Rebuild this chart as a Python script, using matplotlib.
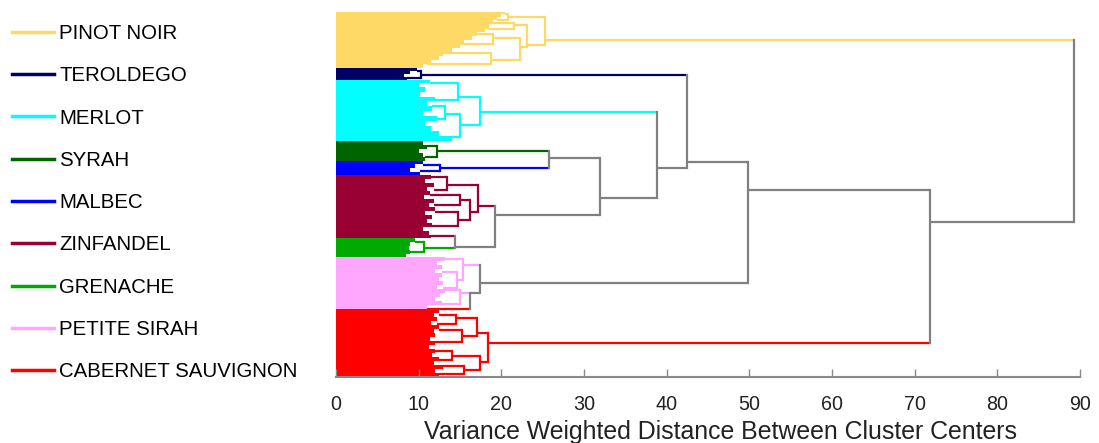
import matplotlib
matplotlib.use('Agg')
import matplotlib.pyplot as plt
from matplotlib.lines import Line2D

plt.rcParams['font.family'] = ['Liberation Sans', 'DejaVu Sans']

# wine classes, in the order of the leaves (top to bottom)
classes = ['PINOT NOIR', 'TEROLDEGO', 'MERLOT', 'SYRAH', 'MALBEC',
           'ZINFANDEL', 'GRENACHE', 'PETITE SIRAH', 'CABERNET SAUVIGNON']
class_colors = ['#FFD966', '#000066', '#00FFFF', '#006400', '#0000FF',
                '#990033', '#00AA00', '#FFA6FF', '#FF0000']
mixed_color = '#808080'

# dense leaf bundles: leaf position breakpoints and the distance the bundle reaches
band_y = [
    [12, 14, 17, 20, 23, 26, 29, 32, 36, 40, 44, 48, 52, 56, 60, 64, 68],
    [68, 71, 74, 77, 80],
    [80, 83, 87, 92, 97, 101, 106, 111, 116, 121, 126, 131, 136, 141],
    [141, 145, 149, 153, 157, 161],
    [161, 164, 168, 172, 175],
    [175, 179, 183, 187, 191, 195, 199, 203, 207, 211, 215, 219, 223, 227, 231, 235, 238],
    [238, 242, 246, 250, 254, 257],
    [257, 261, 265, 269, 273, 277, 281, 285, 289, 293, 297, 301, 305, 309],
    [309, 313, 317, 321, 325, 329, 333, 337, 341, 345, 349, 353, 357, 361, 365, 369, 373, 377],
]
band_x = [
    [20.5, 20.0, 19.5, 19.0, 18.5, 18.5, 18.0, 17.0, 16.5, 15.5, 15.0, 14.0, 13.0, 12.5, 11.5, 10.5],
    [9.8, 9.0, 8.2, 8.6],
    [11.4, 10.0, 10.8, 10.2, 12.0, 11.0, 11.6, 10.5, 12.2, 10.8, 11.5, 12.4, 14.0],
    [10.5, 11.0, 10.0, 10.5, 10.8],
    [10.5, 9.5, 9.0, 10.2],
    [11.5, 10.8, 11.8, 11.0, 11.4, 10.6, 11.8, 11.2, 12.0, 10.8, 11.6, 11.0, 11.6, 10.5, 11.2, 11.5],
    [9.5, 9.0, 8.8, 9.0, 8.5],
    [13.2, 12.2, 12.8, 12.0, 12.8, 12.4, 13.0, 12.2, 13.2, 12.6, 12.0, 12.8, 11.0],
    [12.5, 11.8, 12.2, 11.5, 12.5, 11.8, 12.0, 11.4, 12.0, 11.2, 12.0, 11.6, 12.5, 11.8, 13.0, 12.0, 12.5],
]

# leaf bundles that join the tree: name -> (leaf position, distance, class)
stubs = {
    'pa': (14, 20.5, 0), 'pb': (20, 19.5, 0), 'pc': (23, 18.5, 0), 'pd': (29, 18.5, 0),
    'pe': (34, 17.0, 0), 'pf': (44, 15.0, 0), 'pg': (53, 13.0, 0), 'ph': (64, 11.0, 0),
    'ta': (71, 9.8, 1), 'tb': (78, 8.6, 1),
    'ma': (83, 11.4, 2), 'mb': (100, 12.0, 2), 'mc': (106, 11.6, 2), 'md': (119, 12.2, 2),
    'me': (137, 14.0, 2),
    'sa': (146, 11.0, 3), 'sb': (157, 10.8, 3),
    'ba': (165, 10.5, 4), 'bb': (171, 10.2, 4),
    'za': (177, 11.5, 5), 'zb': (190, 11.8, 5), 'zc': (195, 11.4, 5), 'zd': (205, 11.8, 5),
    'ze': (212, 12.0, 5), 'zf': (226, 11.6, 5), 'zg': (236, 11.5, 5),
    'ga': (242, 9.5, 6), 'gb': (252, 9.0, 6),
    'qa': (259, 13.2, 7), 'qb': (272, 12.8, 7), 'qc': (288, 13.0, 7), 'qd': (290, 13.2, 7),
    'qe': (304, 12.8, 7), 'ra0': (309, 11.0, 8),
    'ra': (315, 12.5, 8), 'rb': (324, 12.2, 8), 'rc': (330, 12.5, 8), 'rd': (342, 12.0, 8),
    're': (351, 12.0, 8), 'rf': (360, 12.5, 8), 'rg': (366, 13.0, 8), 'rh': (374, 12.5, 8),
}

# merges: (name, distance, leaf position of the node, child, child)
merges = [
    ('p1', 20.8, 17, 'pa', 'pb'),
    ('p2', 21.5, 25, 'pc', 'pd'),
    ('p6', 19.0, 38, 'pe', 'pf'),
    ('p7', 18.8, 60, 'pg', 'ph'),
    ('p3', 22.3, 47, 'p6', 'p7'),
    ('p4', 23.1, 45, 'p2', 'p3'),
    ('p5', 25.3, 40, 'p1', 'p4'),
    ('t1', 10.3, 75, 'ta', 'tb'),
    ('m1', 14.8, 97, 'ma', 'mb'),
    ('m3', 13.2, 114, 'mc', 'md'),
    ('m2', 15.0, 125, 'm3', 'me'),
    ('m4', 17.4, 112, 'm1', 'm2'),
    ('s1', 12.2, 151, 'sa', 'sb'),
    ('b1', 12.6, 168, 'ba', 'bb'),
    ('sm', 25.8, 158, 's1', 'b1'),
    ('z1', 13.4, 185, 'za', 'zb'),
    ('z3', 15.0, 200, 'zc', 'zd'),
    ('z4', 14.8, 220, 'ze', 'zf'),
    ('z2', 16.2, 212, 'z3', 'z4'),
    ('zt', 17.2, 206, 'z1', 'z2'),
    ('g1', 10.6, 248, 'ga', 'gb'),
    ('x1', 14.4, 247, 'zg', 'g1'),
    ('z19', 19.2, 215, 'zt', 'x1'),
    ('q1', 14.6, 280, 'qb', 'qc'),
    ('q2', 15.4, 265, 'qa', 'q1'),
    ('q3', 15.0, 293, 'qd', 'qe'),
    ('q4', 16.2, 293, 'q3', 'ra0'),
    ('q5', 17.4, 283, 'q2', 'q4'),
    ('c1', 14.5, 318, 'ra', 'rb'),
    ('c2', 15.2, 336, 'rc', 'rd'),
    ('cu', 17.0, 333, 'c1', 'c2'),
    ('c3', 14.0, 356, 're', 'rf'),
    ('c4', 15.5, 370, 'rg', 'rh'),
    ('cl', 17.4, 362, 'c3', 'c4'),
    ('cr', 18.4, 343, 'cu', 'cl'),
    ('n32', 31.9, 198, 'sm', 'z19'),
    ('n38', 38.8, 168, 'm4', 'n32'),
    ('n42', 42.4, 162, 't1', 'n38'),
    ('n50', 49.8, 190, 'n42', 'q5'),
    ('n72', 71.8, 222, 'n50', 'cr'),
    ('root', 89.3, 131, 'p5', 'n72'),
]

fig = plt.figure(figsize=(10.99, 4.43), dpi=100)
ax = fig.add_axes([336 / 1099, 1 - 377 / 443, (1080 - 336) / 1099, 377 / 443])

# dense leaves
for i, (ys, xs) in enumerate(zip(band_y, band_x)):
    ax.fill_betweenx(ys, 0, xs + [xs[-1]], step='post', color=class_colors[i], lw=0)

# tree links
node = {k: (v[0], v[1], v[2]) for k, v in stubs.items()}  # name -> (y, x, class or None)
for name, h, y, a, b in merges:
    ca, cb = node[a][2], node[b][2]
    cls = ca if ca == cb else None
    for c in (a, b):
        cy, cx, cc = node[c]
        ax.plot([cx, h], [cy, cy], color=class_colors[cc] if cc is not None else mixed_color,
                lw=1.6, solid_capstyle='butt')
    ax.plot([h, h], [node[a][0], node[b][0]], color=class_colors[cls] if cls is not None else mixed_color,
            lw=1.6, solid_capstyle='projecting')
    node[name] = (y, h, cls)

ax.set_xlim(0, 90)
ax.set_ylim(377, 0)
ax.set_xticks(range(0, 91, 10))
ax.set_yticks([])
for s in ['top', 'right', 'left']:
    ax.spines[s].set_visible(False)
ax.spines['bottom'].set_color('#888888')
ax.spines['bottom'].set_linewidth(1.5)
ax.tick_params(axis='x', direction='in', length=6, width=1, color='#888888',
               labelsize=14.2, labelcolor='#222222', pad=13)
ax.set_xlabel('Variance Weighted Distance Between Cluster Centers', fontsize=17.9, color='#222222')
ax.xaxis.set_label_coords(0.517, -0.115)

handles = [Line2D([], [], color=c, lw=2.5) for c in class_colors]
fig.legend(handles, classes, loc='upper left', bbox_to_anchor=(0.011, 1 - 24 / 443),
           frameon=False, fontsize=14.7, handlelength=2.05, handletextpad=0.25,
           labelspacing=1.14, borderpad=0, borderaxespad=0)

fig.savefig('out.png', dpi=100)
